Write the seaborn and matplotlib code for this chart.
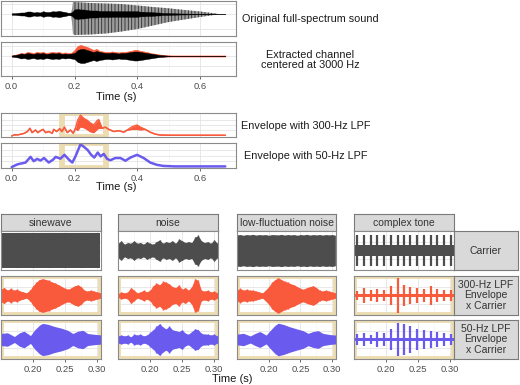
import numpy as np
import pandas as pd
import matplotlib
matplotlib.use("Agg")
import matplotlib.pyplot as plt
import seaborn as sns
from matplotlib.patches import Rectangle

sns.set_theme(style="whitegrid")
plt.rcParams['font.family'] = ['Liberation Sans', 'DejaVu Sans']
plt.rcParams['hatch.linewidth'] = 0.6

# ---------------- data: top panels (time in s) ----------------
top_t = np.round(np.arange(0, 0.681, 0.01), 2)
orig_core = [0.8, 0.8, 1.2, 1.5, 1.5, 2.5, 2.5, 1.5, 2.0, 1.5, 2.8, 2.0, 2.0, 2.8, 2.5, 3.2, 2.5, 2.0, 1.2, 1.5,
             4.5, 5.0, 4.5, 4.5, 4.0, 3.5, 3.5, 3.5, 3.0, 3.0, 3.0, 3.0, 2.8, 2.8, 2.8, 2.8, 2.8, 2.8, 2.8, 2.8,
             2.8, 2.3, 2.3, 2.0, 2.0, 1.8, 1.5, 1.5, 1.0, 1.0, 1.0, 0.8, 0.7, 0.6, 0.5, 0.5, 0.4, 0.4, 0.3, 0.3,
             0.3, 0.2, 0.2, 0.1, 0.1, 0.0, 0.0, 0.0, 0.0]
orig_harm_t = [0.19, 0.195, 0.20, 0.25, 0.30, 0.35, 0.40, 0.45, 0.50, 0.55, 0.60, 0.65, 0.657]
orig_harm_up = [0, 12, 12, 11, 10.5, 10, 8.5, 7, 5.7, 4, 2.5, 0.5, 0]
orig_harm_dn = [0, 20, 21, 20.5, 19.5, 17.5, 15, 11.5, 8, 5.5, 3, 0.7, 0]

chan_black = [0.5, 1, 1.5, 2.5, 2, 3, 2.5, 2, 3, 2.5, 3, 2, 2.5, 3, 2.5, 3, 2, 2.5, 2, 2.5,
              3, 6, 7, 7, 6, 5, 4, 5, 4, 3.5, 3, 3, 3.5, 3, 2.5, 3, 3, 3.5, 4, 4.5,
              4.5, 4, 3.5, 3, 2.5, 2, 1.5, 1, 0.8, 0.5, 0.3] + [0] * 18
chan_red = [0.5, 1, 2, 3, 2.5, 4, 3.5, 3, 4, 3.5, 4, 3, 3.5, 4, 3.5, 4, 3, 3.5, 3, 3,
            6, 10, 11, 10, 9, 7.5, 6, 7, 5, 4.5, 4, 4, 4.5, 4, 3.5, 4, 4, 4.5, 5, 6,
            6, 5, 4.5, 4, 3, 2.5, 2, 1.5, 1, 0.8, 0.6] + [0.5] * 18

env300_t = [0.00, 0.01, 0.02, 0.03, 0.04, 0.05, 0.058, 0.065, 0.076, 0.083, 0.092, 0.10, 0.108, 0.118,
            0.129, 0.134, 0.143, 0.153, 0.16, 0.168, 0.177, 0.187, 0.196, 0.203, 0.21, 0.219, 0.23,
            0.24, 0.25, 0.261, 0.272, 0.277, 0.288, 0.298, 0.309, 0.325, 0.341, 0.357, 0.367, 0.383,
            0.399, 0.41, 0.425, 0.441, 0.457, 0.473, 0.50, 0.55, 0.60, 0.65, 0.68]
env300_hi = [0.0, 0.05, 0.05, 0.08, 0.12, 0.2, 0.35, 0.15, 0.27, 0.15, 0.24, 0.3, 0.15, 0.2,
             0.12, 0.3, 0.2, 0.33, 0.2, 0.4, 0.15, 0.27, 0.12, 0.35, 0.72, 0.95, 0.8,
             0.72, 0.6, 0.5, 0.7, 0.75, 0.35, 0.4, 0.3, 0.2, 0.24, 0.17, 0.26, 0.42,
             0.5, 0.4, 0.3, 0.17, 0.08, 0.04, 0.03, 0.03, 0.03, 0.03, 0.03]
env300_lo = [0.0, 0.05, 0.05, 0.08, 0.12, 0.2, 0.35, 0.15, 0.27, 0.15, 0.24, 0.3, 0.15, 0.2,
             0.12, 0.3, 0.2, 0.33, 0.2, 0.4, 0.15, 0.27, 0.12, 0.35, 0.25, 0.42, 0.38,
             0.3, 0.2, 0.15, 0.3, 0.35, 0.35, 0.4, 0.3, 0.2, 0.24, 0.17, 0.26, 0.3,
             0.3, 0.28, 0.3, 0.17, 0.08, 0.04, 0.03, 0.03, 0.03, 0.03, 0.03]

env50_t = [0.0, 0.018, 0.044, 0.06, 0.07, 0.081, 0.092, 0.103, 0.118, 0.132, 0.14, 0.155, 0.168, 0.182,
           0.193, 0.203, 0.219, 0.23, 0.242, 0.253, 0.263, 0.274, 0.283, 0.293, 0.304, 0.314, 0.33,
           0.346, 0.362, 0.378, 0.399, 0.42, 0.441, 0.462, 0.483, 0.52, 0.6, 0.68]
env50_v = [0.0, 0.12, 0.2, 0.45, 0.26, 0.36, 0.29, 0.4, 0.2, 0.33, 0.45, 0.37, 0.54, 0.33,
           0.2, 0.47, 1.0, 0.89, 0.75, 0.54, 0.42, 0.64, 0.47, 0.58, 0.36, 0.3, 0.4,
           0.4, 0.28, 0.42, 0.54, 0.4, 0.2, 0.1, 0.05, 0.03, 0.03, 0.03]

# ---------------- data: bottom grid ----------------
col_names = ['sinewave', 'noise', 'low-fluctuation noise', 'complex tone']
row_names = ['Carrier', '300-Hz LPF\nEnvelope\nx Carrier', '50-Hz LPF\nEnvelope\nx Carrier']
bt = np.round(np.arange(0.15, 0.3051, 0.005), 3)

sine_r1 = [1.0] * 32
sine_r2 = [0.35, 0.45, 0.3, 0.4, 0.3, 0.35, 0.25, 0.2, 0.15, 0.3, 0.55, 0.75, 0.9, 0.95, 0.9, 0.85,
           0.75, 0.7, 0.6, 0.5, 0.4, 0.35, 0.45, 0.55, 0.6, 0.5, 0.3, 0.25, 0.3, 0.25, 0.2, 0.15]
env50_bt = [0.150, 0.160, 0.171, 0.179, 0.186, 0.196, 0.202, 0.210, 0.215, 0.223, 0.233, 0.244,
            0.254, 0.262, 0.270, 0.278, 0.285, 0.296, 0.306]
sine_r3 = [0.34, 0.38, 0.17, 0.38, 0.47, 0.22, 0.52, 0.81, 0.91, 0.86, 0.74, 0.64,
           0.52, 0.34, 0.47, 0.52, 0.34, 0.29, 0.26]

noise_r1 = [0.4, 0.55, 0.35, 0.45, 0.4, 0.55, 0.4, 0.45, 0.35, 0.5, 0.4, 0.35, 0.5, 0.6, 0.4, 0.5,
            0.45, 0.55, 0.4, 0.65, 0.55, 0.45, 0.5, 0.45, 0.75, 0.85, 0.55, 0.45, 0.5, 0.4, 0.6, 0.4]
noise_r2 = [0.1, 0.2, 0.15, 0.2, 0.45, 0.3, 0.15, 0.2, 0.3, 0.2, 0.3, 0.55, 0.7, 0.6, 0.8, 0.75,
            0.65, 0.5, 0.45, 0.6, 0.35, 0.45, 0.3, 0.5, 0.95, 0.85, 0.3, 0.25, 0.3, 0.2, 0.25, 0.15]
noise_r3 = [0.2, 0.25, 0.2, 0.25, 0.15, 0.3, 0.25, 0.3, 0.2, 0.25, 0.4, 0.55, 0.75, 0.9, 0.7, 0.6,
            0.75, 0.55, 0.5, 0.45, 0.55, 0.35, 0.3, 0.45, 0.6, 0.55, 0.35, 0.3, 0.3, 0.25, 0.3, 0.2]

lowf_r1 = [0.88, 0.9, 0.86, 0.9, 0.88, 0.91, 0.87, 0.9, 0.88, 0.9, 0.86, 0.9, 0.89, 0.88, 0.91, 0.87,
           0.9, 0.88, 0.9, 0.86, 0.9, 0.88, 0.91, 0.87, 0.9, 0.88, 0.9, 0.87, 0.9, 0.88, 0.9, 0.86]
lowf_r2 = [0.3, 0.4, 0.3, 0.35, 0.3, 0.3, 0.25, 0.2, 0.15, 0.3, 0.5, 0.75, 0.9, 1.0, 0.9, 0.8,
           0.75, 0.65, 0.6, 0.5, 0.4, 0.35, 0.45, 0.5, 0.55, 0.45, 0.3, 0.25, 0.3, 0.25, 0.2, 0.15]
lowf_r3 = [0.3, 0.35, 0.2, 0.35, 0.45, 0.25, 0.5, 0.8, 0.92, 0.85, 0.72, 0.6,
           0.5, 0.35, 0.45, 0.5, 0.35, 0.28, 0.25]

pulse_t = [0.155, 0.165, 0.176, 0.186, 0.197, 0.207, 0.218, 0.228, 0.238, 0.249, 0.259, 0.270, 0.280, 0.290, 0.301]
cplx_r1 = [0.9] * 15
cplx_r2 = [0.25, 0.4, 0.3, 0.35, 0.3, 0.55, 1.0, 0.6, 0.5, 0.45, 0.35, 0.55, 0.35, 0.3, 0.3]
cplx_r3 = [0.3, 0.35, 0.25, 0.45, 0.35, 0.6, 0.95, 0.85, 0.75, 0.6, 0.55, 0.5, 0.45, 0.35, 0.3]
cplx_base = [0.3, 0.08, 0.1]

# ---------------- styling ----------------
GRAY = '#4d4d4d'
RED = '#fa5a3c'
BLUE = '#6a5bee'
TAN = '#ecdcb2'
SPINE = '#8a8a8a'
TXT = '#1a1a1a'

W, H = 520, 385
fig = plt.figure(figsize=(5.2, 3.85), dpi=100)


def px_ax(x0, y0, x1, y1):
    return fig.add_axes([x0 / W, 1 - y1 / H, (x1 - x0) / W, (y1 - y0) / H])


def style(ax, xlim, ylim, xt, xtm, yt, labels=None):
    ax.set_xlim(*xlim)
    ax.set_ylim(*ylim)
    ax.set_facecolor('white')
    for s in ax.spines.values():
        s.set_color(SPINE)
        s.set_linewidth(0.8)
        s.set_zorder(5)
    ax.set_xticks(xt)
    ax.set_xticks(xtm, minor=True)
    ax.set_yticks(yt)
    ax.grid(True, which='major', color='#e4e4e4', lw=0.6)
    ax.grid(True, which='minor', axis='x', color='#f1f1f1', lw=0.4)
    ax.tick_params(axis='y', left=False, labelleft=False)
    ax.tick_params(which='minor', bottom=False, left=False)
    if labels is not None:
        ax.set_xticklabels(labels)
        ax.tick_params(axis='x', bottom=True, length=2.5, width=0.6, color='#555555',
                       labelsize=6.8, labelcolor='#4d4d4d', pad=1.5)
    else:
        ax.tick_params(axis='x', bottom=False, labelbottom=False)
    ax.set_xlabel('')
    ax.set_ylabel('')


TXL = (-0.034, 0.714)
txt_major = [0.0, 0.2, 0.4, 0.6]
txt_minor = [0.1, 0.3, 0.5]

# Panel 1: original sound
a1 = px_ax(1, 1, 236, 36)
a1.fill_between(orig_harm_t, [-v for v in orig_harm_dn], orig_harm_up, facecolor='#9c9c9c',
                hatch='|||||', edgecolor='#2e2e2e', linewidth=0, zorder=2)
a1.fill_between(top_t, [-v for v in orig_core], orig_core, color='black', linewidth=0.3, zorder=3)
style(a1, TXL, (-22, 13), txt_major, txt_minor, [-15, 0, 10])

# Panel 2: extracted channel
a2 = px_ax(1, 42, 236, 76)
a2.fill_between(top_t, [-0.5] * len(top_t), chan_red, color=RED, linewidth=0.5, zorder=2)
a2.fill_between(top_t, [-v for v in chan_black], chan_black, color='black', linewidth=0.3, zorder=3)
style(a2, TXL, (-20, 14), txt_major, txt_minor, [-10, 0, 10], ['0.0', '0.2', '0.4', '0.6'])
fig.text(116 / W, 1 - 97 / H, 'Time (s)', ha='center', va='center', fontsize=8, color=TXT)

# Panel 3: 300-Hz envelope
a3 = px_ax(1, 113, 236, 137)
Y3 = (-0.05, 1.05)
a3.add_patch(Rectangle((0.16, Y3[0]), 0.14, Y3[1] - Y3[0], fill=False, edgecolor=TAN, lw=4.2, zorder=1))
a3.fill_between(env300_t, env300_lo, env300_hi, color=RED, linewidth=0, zorder=2)
sns.lineplot(x=env300_t, y=env300_hi, ax=a3, color=RED, lw=1.0, zorder=3)
sns.lineplot(x=env300_t, y=env300_lo, ax=a3, color=RED, lw=1.0, zorder=3)
style(a3, TXL, Y3, txt_major, txt_minor, [0.25, 0.5, 0.75])

# Panel 4: 50-Hz envelope
a4 = px_ax(1, 143, 236, 168)
Y4 = (-0.04, 1.06)
a4.add_patch(Rectangle((0.16, Y4[0]), 0.14, Y4[1] - Y4[0], fill=False, edgecolor=TAN, lw=4.2, zorder=1))
sns.lineplot(x=env50_t, y=env50_v, ax=a4, color=BLUE, lw=1.8, zorder=3)
style(a4, TXL, Y4, txt_major, txt_minor, [0.25, 0.5, 0.75], ['0.0', '0.2', '0.4', '0.6'])
fig.text(116 / W, 1 - 187 / H, 'Time (s)', ha='center', va='center', fontsize=8, color=TXT)

# right-side labels
fig.text(242 / W, 1 - 19 / H, 'Original full-spectrum sound', ha='left', va='center', fontsize=7.8, color=TXT)
fig.text(310 / W, 1 - 60 / H, 'Extracted channel\ncentered at 3000 Hz', ha='center', va='center',
         fontsize=7.8, color=TXT, linespacing=1.1)
fig.text(241 / W, 1 - 126 / H, 'Envelope with 300-Hz LPF', ha='left', va='center', fontsize=7.8, color=TXT)
fig.text(244 / W, 1 - 156 / H, 'Envelope with 50-Hz LPF', ha='left', va='center', fontsize=7.8, color=TXT)

# ---------------- bottom grid ----------------
col_x = [(1, 101), (118, 218), (237, 336), (354, 454)]
row_y = [(231, 270), (276, 315), (320, 359)]
strip_y = (214, 231)
BXL = (0.15, 0.306)
row_colors = [GRAY, RED, BLUE]

wave_data = {
    (0, 0): (bt, sine_r1), (0, 1): (bt, sine_r2), (0, 2): (env50_bt, sine_r3),
    (1, 0): (bt, noise_r1), (1, 1): (bt, noise_r2), (1, 2): (bt, noise_r3),
    (2, 0): (bt, lowf_r1), (2, 1): (bt, lowf_r2), (2, 2): (env50_bt, lowf_r3),
}
pulse_data = [cplx_r1, cplx_r2, cplx_r3]


def strip(x0, y0, x1, y1, text):
    sa = px_ax(x0, y0, x1, y1)
    sa.set_facecolor('#d9d9d9')
    sa.grid(False)
    sa.set_xticks([])
    sa.set_yticks([])
    for s in sa.spines.values():
        s.set_color('#7a7a7a')
        s.set_linewidth(0.8)
    sa.text(0.5, 0.5, text, ha='center', va='center', fontsize=7.5, color='#333333',
            transform=sa.transAxes, linespacing=1.05)
    return sa


for ci, (x0, x1) in enumerate(col_x):
    strip(x0, strip_y[0], x1, strip_y[1], col_names[ci])
    for ri, (y0, y1) in enumerate(row_y):
        ax = px_ax(x0, y0, x1, y1)
        col = row_colors[ri]
        if ri > 0:
            ax.add_patch(Rectangle((0, 0), 1, 1, transform=ax.transAxes, fill=False,
                                   edgecolor=TAN, lw=4.2, zorder=0.8))
        if ci < 3:
            t, a = wave_data[(ci, ri)]
            ax.fill_between(t, [-v for v in a], a, color=col, linewidth=0, zorder=2)
            if ci == 1 or ri == 1:
                ax.vlines(t, [-v for v in a], a, color=col, lw=1.0, zorder=2)
        else:
            base = cplx_base[ri]
            ax.fill_between(BXL, [-base, -base], [base, base], color=col, linewidth=0, zorder=2)
            hts = pulse_data[ri]
            ax.vlines(pulse_t, [-v for v in hts], hts, color=col, lw=1.6, zorder=3)
        labels = ['0.20', '0.25', '0.30'] if ri == 2 else None
        style(ax, BXL, (-1.1, 1.1), [0.20, 0.25, 0.30], [0.175, 0.225, 0.275], [-0.5, 0, 0.5], labels)

for ri, (y0, y1) in enumerate(row_y):
    strip(454, y0, 518, y1, row_names[ri])

fig.text(232 / W, 1 - 379 / H, 'Time (s)', ha='center', va='center', fontsize=8, color=TXT)

fig.savefig('out.png', dpi=100)
